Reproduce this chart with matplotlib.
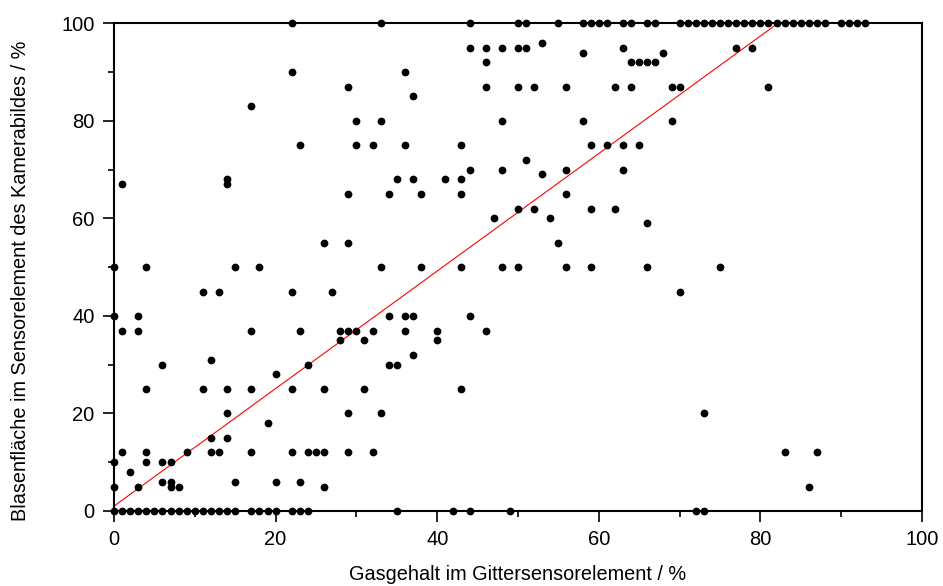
import matplotlib
matplotlib.use("Agg")
import matplotlib.pyplot as plt
from matplotlib.ticker import MultipleLocator

plt.rcParams['font.family'] = ['Liberation Sans', 'DejaVu Sans']

# Gas content in the grid sensor element (%), grouped by camera-image level
gas_content = [
    # area 100
    22, 33, 44, 50, 51, 55, 58, 59, 60, 61,
    63, 64, 66, 67, 70, 71, 72, 73, 74, 75,
    76, 77, 78, 79, 80, 81, 82, 83, 84, 85,
    86, 87, 88, 90, 91, 92, 93,
    # 96, 95, 94, 92, 90
    53,
    44, 46, 48, 50, 51, 63, 77, 79,
    58, 68,
    46, 64, 65, 66, 67,
    22, 36,
    # 87, 85, 83, 80
    29, 46, 50, 52, 56, 62, 64, 69, 70, 81,
    37,
    17,
    30, 33, 48, 58, 69,
    # 75, 72, 70, 69
    23, 30, 32, 36, 43, 59, 61, 63, 65,
    51,
    44, 48, 56, 63,
    53,
    # 68, 67, 65
    14, 35, 37, 41, 43,
    1, 14,
    29, 34, 38, 43, 56,
    # 62, 60, 59, 55
    50, 52, 59, 62,
    47, 54,
    66,
    26, 29, 55,
    # 50
    0, 4, 15, 18, 33, 38, 43, 48, 50, 56, 59, 66, 75,
    # 45, 40
    11, 13, 22, 27, 70,
    0, 3, 34, 36, 37, 44,
    # 37, 35, 32, 31
    1, 3, 17, 23, 28, 29, 30, 32, 36, 40, 46,
    28, 31, 40,
    37,
    12,
    # 30, 28, 25
    6, 24, 34, 35,
    20,
    4, 11, 14, 17, 22, 26, 31, 43,
    # 20, 18, 15
    14, 29, 33, 73,
    19,
    12, 14,
    # 12
    1, 4, 9, 12, 13, 17, 22, 24, 25, 26, 29, 32, 83, 87,
    # 10, 8, 6, 5
    0, 4, 6, 7,
    2,
    6, 7, 15, 20, 23,
    0, 3, 7, 8, 26, 86,
    # 0
    0, 1, 2, 3, 4, 5, 6, 7, 8, 9, 10, 11, 12, 13, 14, 15,
    17, 18, 19, 20, 22, 23, 24, 35, 42, 44, 49, 72, 73,
]

# Bubble area in the sensor element of the camera image (%)
bubble_area = [
    100, 100, 100, 100, 100, 100, 100, 100, 100, 100,
    100, 100, 100, 100, 100, 100, 100, 100, 100, 100,
    100, 100, 100, 100, 100, 100, 100, 100, 100, 100,
    100, 100, 100, 100, 100, 100, 100,
    96,
    95, 95, 95, 95, 95, 95, 95, 95,
    94, 94,
    92, 92, 92, 92, 92,
    90, 90,
    87, 87, 87, 87, 87, 87, 87, 87, 87, 87,
    85,
    83,
    80, 80, 80, 80, 80,
    75, 75, 75, 75, 75, 75, 75, 75, 75,
    72,
    70, 70, 70, 70,
    69,
    68, 68, 68, 68, 68,
    67, 67,
    65, 65, 65, 65, 65,
    62, 62, 62, 62,
    60, 60,
    59,
    55, 55, 55,
    50, 50, 50, 50, 50, 50, 50, 50, 50, 50, 50, 50, 50,
    45, 45, 45, 45, 45,
    40, 40, 40, 40, 40, 40,
    37, 37, 37, 37, 37, 37, 37, 37, 37, 37, 37,
    35, 35, 35,
    32,
    31,
    30, 30, 30, 30,
    28,
    25, 25, 25, 25, 25, 25, 25, 25,
    20, 20, 20, 20,
    18,
    15, 15,
    12, 12, 12, 12, 12, 12, 12, 12, 12, 12, 12, 12, 12, 12,
    10, 10, 10, 10,
    8,
    6, 6, 6, 6, 6,
    5, 5, 5, 5, 5, 5,
    0, 0, 0, 0, 0, 0, 0, 0, 0, 0, 0, 0, 0, 0, 0, 0,
    0, 0, 0, 0, 0, 0, 0, 0, 0, 0, 0, 0, 0,
]

assert len(gas_content) == len(bubble_area), (len(gas_content), len(bubble_area))

# Linear fit line (red), clipped at 100 %
fit_intercept = 1.0
fit_slope = 1.205
x_ticks = [0, 20, 40, 60, 80, 100]
y_ticks = [0, 20, 40, 60, 80, 100]
x_label = "Gasgehalt im Gittersensorelement / %"
y_label = "Blasenfläche im Sensorelement des Kamerabildes / %"

fig = plt.figure(figsize=(9.43, 5.86), dpi=100)
ax = fig.add_axes([114 / 943, 1 - 511 / 586, 808 / 943, 487.7 / 586])

fit_x_end = (100 - fit_intercept) / fit_slope
ax.plot([0, fit_x_end], [fit_intercept, fit_intercept + fit_slope * fit_x_end],
        color='#ff0000', lw=0.8, zorder=2)

ax.plot(gas_content, bubble_area, 'o', color='black', ms=5.6, mew=0,
        clip_on=False, zorder=3)

ax.set_xlim(0, 100)
ax.set_ylim(0, 100)
ax.set_xticks(x_ticks)
ax.set_yticks(y_ticks)
ax.xaxis.set_minor_locator(MultipleLocator(10))
ax.yaxis.set_minor_locator(MultipleLocator(10))
ax.tick_params(which='both', direction='out', top=False, right=False, width=1.2,
               color='black')
ax.tick_params(which='major', length=8, labelsize=14.5, pad=6)
ax.tick_params(which='minor', length=4)
for s in ax.spines.values():
    s.set_linewidth(1.5)
    s.set_color('black')

ax.set_xlabel(x_label, fontsize=14.3)
ax.set_ylabel(y_label, fontsize=14.3)
ax.xaxis.set_label_coords(0.5, -(565 - 511) / 487.7)
ax.yaxis.set_label_coords(-(114 - 30) / 808, (511 - 281) / 487.7)

fig.savefig("out.png", dpi=100)
